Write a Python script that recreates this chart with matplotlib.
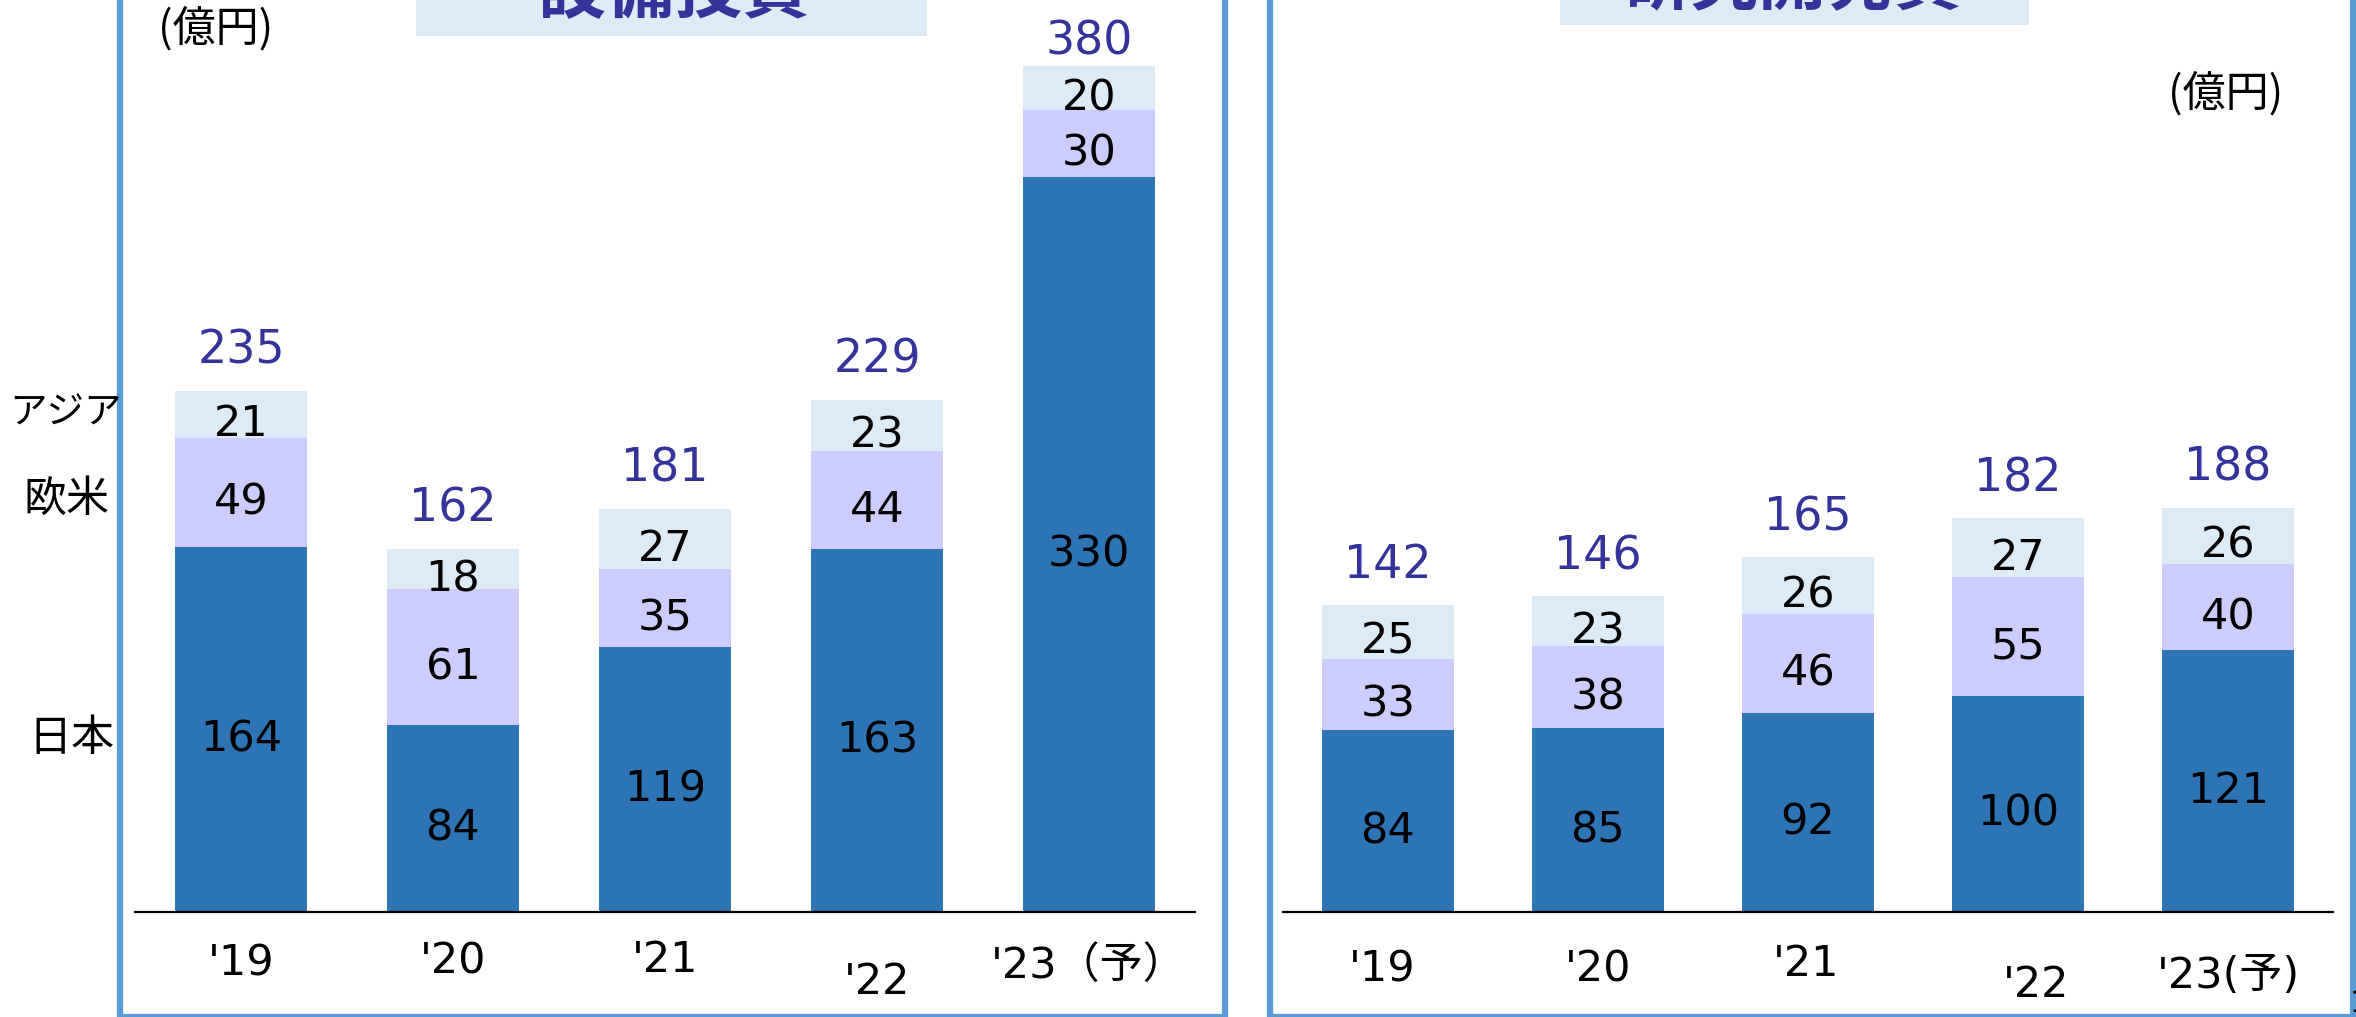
import matplotlib
matplotlib.use("Agg")
import matplotlib.pyplot as plt
from matplotlib.patches import Rectangle

# data (億円)
capex_years = ["'19", "'20", "'21", "'22", "'23（予）"]
capex_japan = [164, 84, 119, 163, 330]
capex_west = [49, 61, 35, 44, 30]
capex_asia = [21, 18, 27, 23, 20]
capex_total = [235, 162, 181, 229, 380]

rd_years = ["'19", "'20", "'21", "'22", "'23(予)"]
rd_japan = [84, 85, 92, 100, 121]
rd_west = [33, 38, 46, 55, 40]
rd_asia = [25, 23, 26, 27, 26]
rd_total = [142, 146, 165, 182, 188]

region_names = ["アジア", "欧米", "日本"]

# style
C_JAPAN = "#2E75B6"
C_WEST = "#CCCCFF"
C_ASIA = "#DDEBF7"
C_TOTAL = "#333399"
C_FRAME = "#5B9BD5"
FONTS = ["DejaVu Sans", "Noto Sans CJK JP"]
CJK = ["Noto Sans CJK JP", "DejaVu Sans"]

W, H = 2356, 1017
fig = plt.figure(figsize=(W / 100, H / 100), dpi=100)


def fx(px):
    return px / W


def fy(py):
    # py measured from the top of the image
    return 1 - py / H


def stacked(ax, years, japan, west, asia, total, width, total_gap, label_dx, label_drop):
    x = range(len(years))
    bottom2 = [a + b for a, b in zip(japan, west)]
    ax.bar(x, japan, width, color=C_JAPAN, zorder=2)
    ax.bar(x, west, width, bottom=japan, color=C_WEST, zorder=2)
    ax.bar(x, asia, width, bottom=bottom2, color=C_ASIA, zorder=2)
    for i in x:
        segs = [(0, japan[i]), (japan[i], west[i]), (bottom2[i], asia[i])]
        for b, v in segs:
            ax.annotate(str(v), (i, b + v / 2), xytext=(0, -22), textcoords="offset pixels",
                        ha="center", va="baseline", fontsize=31, color="black",
                        family=FONTS, zorder=3)
        top = bottom2[i] + asia[i]
        ax.annotate(str(total[i]), (i, top), xytext=(0, total_gap[i]), textcoords="offset pixels",
                    ha="center", va="baseline", fontsize=33, color=C_TOTAL,
                    family=FONTS, zorder=3)
        ax.annotate(years[i], (i, 0), xytext=(label_dx[i], -64 - label_drop[i]),
                    textcoords="offset pixels", ha="center", va="baseline", fontsize=31,
                    color="black", family=FONTS, annotation_clip=False)
    ax.set_xlim(-0.5, len(years) - 0.5)
    ax.set_ylim(0, 400)
    for s in ["left", "right", "top"]:
        ax.spines[s].set_visible(False)
    ax.spines["bottom"].set_color("black")
    ax.spines["bottom"].set_linewidth(1.6)
    ax.spines["bottom"].set_zorder(4)
    ax.set_xticks([])
    ax.set_yticks([])
    ax.patch.set_alpha(0)


# panel frames
fig.add_artist(Rectangle((fx(120), fy(1017)), fx(1225 - 120), 1.2, transform=fig.transFigure,
                         fill=False, edgecolor=C_FRAME, linewidth=4.5, clip_on=False))
fig.add_artist(Rectangle((fx(1270), fy(1017)), fx(2353 - 1270), 1.2, transform=fig.transFigure,
                         fill=False, edgecolor=C_FRAME, linewidth=4.5, clip_on=False))

# title boxes (cut at the top edge)
fig.add_artist(Rectangle((fx(416), fy(36)), fx(927 - 416), 0.2, transform=fig.transFigure,
                         facecolor=C_ASIA, edgecolor="none"))
fig.add_artist(Rectangle((fx(1560), fy(25)), fx(2029 - 1560), 0.2, transform=fig.transFigure,
                         facecolor=C_ASIA, edgecolor="none"))
fig.text(fx(674), fy(12), "設備投資", ha="center", va="baseline", fontsize=49,
         fontweight="bold", color=C_TOTAL, family=CJK)
fig.text(fx(1793), fy(4), "研究開発費", ha="center", va="baseline", fontsize=49,
         fontweight="bold", color=C_TOTAL, family=CJK)

# left chart
ax1 = fig.add_axes([fx(135), fy(912), fx(1060), 400 * 2.227 / H])
stacked(ax1, capex_years, capex_japan, capex_west, capex_asia, capex_total, 0.623,
        [27, 27, 27, 27, 11], [0, 0, 0, 0, 0], [0, -3, -4, 18, 3])

# right chart
ax2 = fig.add_axes([fx(1283), fy(912), fx(1050), 400 * 2.163 / H])
stacked(ax2, rd_years, rd_japan, rd_west, rd_asia, rd_total, 0.629,
        [27, 27, 27, 27, 27], [-6, 0, -2, 18, 0], [6, 6, 0, 21, 12])

# unit labels
fig.text(fx(216), fy(29), "(億円)", ha="center", va="center", fontsize=31, family=CJK)
fig.text(fx(2226), fy(94), "(億円)", ha="center", va="center", fontsize=31, family=CJK)

# region labels on the left margin
for name, (px, py), fs in zip(region_names, [(66, 413), (66, 500), (71, 739)], [27, 31, 31]):
    fig.text(fx(px), fy(py), name, ha="center", va="center", fontsize=fs, family=CJK)

# page number peeking in at the corner
fig.text(fx(2350), fy(1012), "1", ha="left", va="baseline", fontsize=22, family=FONTS)

fig.savefig("out.png", dpi=100)
